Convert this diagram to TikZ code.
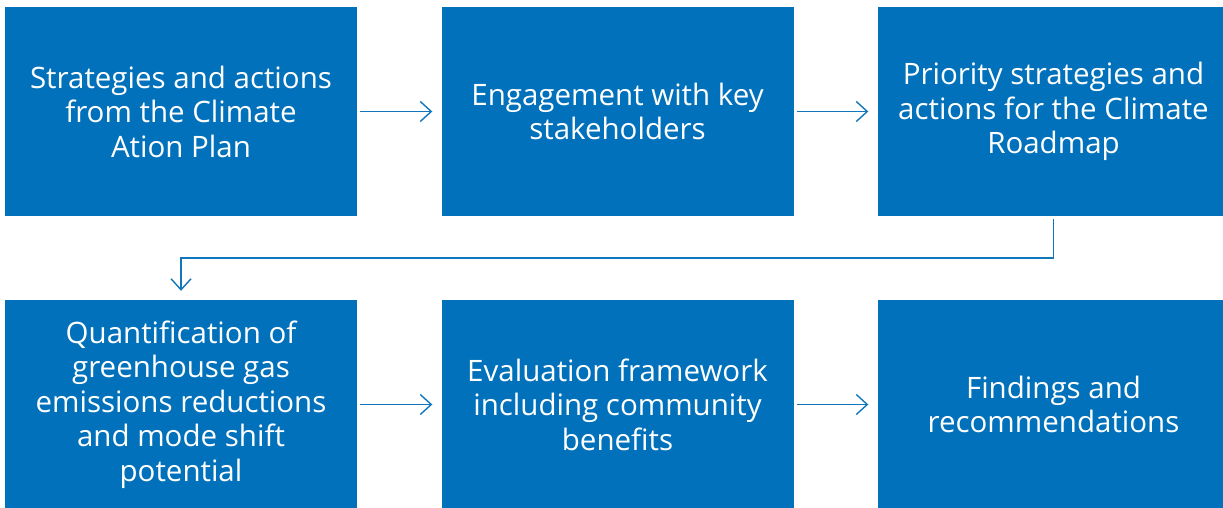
\documentclass[tikz,border=0pt]{standalone}
\usepackage{fontspec}
\setmainfont{Open Sans}
\usetikzlibrary{arrows.meta}
\definecolor{boxblue}{HTML}{0071BA}
\definecolor{lineblue}{HTML}{1276BC}
\tikzset{
  stepbox/.style={fill=boxblue, draw=none, minimum width=352pt, minimum height=209pt, align=center, text=white, inner sep=0pt, font=\fontsize{29.5}{34.5}\selectfont},
  conn/.style={draw=lineblue, line width=1.4pt, -{Straight Barb[length=11pt,width=20pt,line width=1.4pt]}}
}
\begin{document}
\begin{tikzpicture}[x=1pt,y=-1pt]
\useasboundingbox (0,0) rectangle (1223,508);
\node[stepbox] (a) at (181,111.5) {Strategies and actions\\from the Climate\\Ation Plan};
\node[stepbox] (b) at (617.5,111.5) {Engagement with key\\stakeholders};
\node[stepbox] (c) at (1053.5,111.5) {Priority strategies and\\actions for the Climate\\Roadmap};
\node[stepbox] (d) at (181,404.5) {Quantification of\\greenhouse gas\\emissions reductions\\and mode shift\\potential};
\node[stepbox] (e) at (617.5,404.5) {Evaluation framework\\including community\\benefits};
\node[stepbox] (f) at (1053.5,404.5) {Findings and\\recommendations};
\coordinate (c1) at (1053.5,258);
\coordinate (c2) at (181,258);
\draw[conn, shorten <=3pt, shorten >=9pt] (a.east) -- (b.west);
\draw[conn, shorten <=3pt, shorten >=9pt] (b.east) -- (c.west);
\draw[conn, shorten <=3pt, shorten >=9pt] (d.east) -- (e.west);
\draw[conn, shorten <=3pt, shorten >=9pt] (e.east) -- (f.west);
\draw[conn, shorten <=3pt, shorten >=9pt] (c.south) -- (c1) -- (c2) -- (d.north);
\end{tikzpicture}
\end{document}
